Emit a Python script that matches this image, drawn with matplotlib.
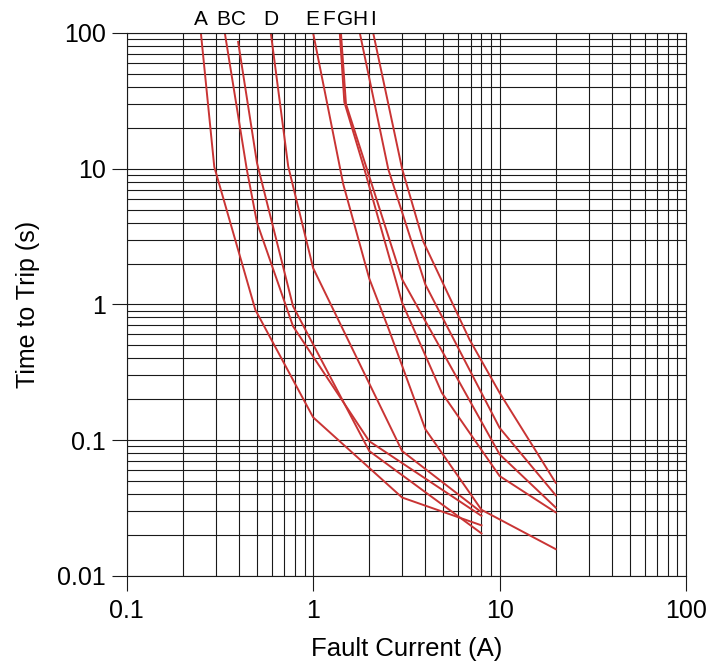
import matplotlib
matplotlib.use("Agg")
import matplotlib.pyplot as plt
from matplotlib.ticker import LogLocator, FixedLocator, NullFormatter

plt.rcParams['font.family'] = ['Liberation Sans', 'DejaVu Sans']

# ---- data (current in A, time in s) ----
names = ["A", "B", "C", "D", "E", "F", "G", "H", "I"]

A_x = [0.25, 0.295, 0.49, 1.0, 3.0, 8.0]
A_y = [100, 10.3, 0.91, 0.147, 0.0377, 0.0235]
B_x = [0.336, 0.44, 0.5, 0.78, 2.0, 8.0]
B_y = [100, 10, 4.0, 0.69, 0.098, 0.0276]
C_x = [0.396, 0.5, 0.78, 2.0, 8.0]
C_y = [86, 11, 0.97, 0.083, 0.0205]
D_x = [0.593, 0.735, 1.0, 3.0, 8.0]
D_y = [100, 10.4, 1.85, 0.083, 0.0293]
E_x = [1.0, 1.45, 2.0, 2.55, 4.0, 8.0, 20.0]
E_y = [100, 7.7, 1.55, 0.65, 0.12, 0.0306, 0.0157]
F_x = [1.39, 1.47, 1.88, 3.0, 4.9, 10.0, 20.0]
F_y = [100, 31, 10, 1.03, 0.223, 0.0543, 0.0293]
G_x = [1.41, 1.5, 1.94, 3.0, 10.0, 20.0]
G_y = [100, 30, 10, 1.53, 0.0785, 0.0318]
H_x = [1.78, 2.53, 4.0, 10.0, 20.0]
H_y = [100, 9.9, 1.4, 0.123, 0.0392]
I_x = [2.1, 3.0, 3.9, 6.9, 10.0, 20.0]
I_y = [100, 10, 2.9, 0.55, 0.223, 0.0484]

label_x = [0.25, 0.329, 0.40, 0.59, 0.99, 1.215, 1.48, 1.79, 2.1]

x_ticks = [0.1, 1, 10, 100]
x_ticklabels = ["0.1", "1", "10", "100"]
y_ticks = [0.01, 0.1, 1, 10, 100]
y_ticklabels = ["0.01", "0.1", "1", "10", "100"]

curves = [(A_x, A_y), (B_x, B_y), (C_x, C_y), (D_x, D_y), (E_x, E_y),
          (F_x, F_y), (G_x, G_y), (H_x, H_y), (I_x, I_y)]

fig = plt.figure(figsize=(7.10, 6.68), dpi=100)
ax = fig.add_axes([126.7 / 710, 1 - 575.7 / 668, (686 - 126.7) / 710, (575.7 - 33) / 668])
ax.set_xscale("log")
ax.set_yscale("log")
ax.set_xlim(0.1, 100)
ax.set_ylim(0.01, 100)

ax.xaxis.set_major_locator(FixedLocator(x_ticks))
ax.yaxis.set_major_locator(FixedLocator(y_ticks))
ax.set_xticklabels(x_ticklabels)
ax.set_yticklabels(y_ticklabels)
ax.xaxis.set_minor_locator(LogLocator(base=10, subs=range(2, 10)))
ax.yaxis.set_minor_locator(LogLocator(base=10, subs=range(2, 10)))
ax.xaxis.set_minor_formatter(NullFormatter())
ax.yaxis.set_minor_formatter(NullFormatter())

ax.grid(True, which="both", color="#1a1a1a", linewidth=0.8)
ax.set_axisbelow(True)
ax.tick_params(which="major", direction="out", length=11, width=0.8,
               labelsize=18, pad=4, color="#1a1a1a")
ax.tick_params(axis="x", which="major", pad=6)
ax.tick_params(which="minor", length=0)
for s in ax.spines.values():
    s.set_color("#1a1a1a")
    s.set_linewidth(0.8)

for (xs, ys) in curves:
    ax.plot(xs, ys, color="#c93434", linewidth=1.4, solid_joinstyle="miter")

for name, lx in zip(names, label_x):
    ax.annotate(name, xy=(lx, 1.0), xycoords=("data", "axes fraction"),
                xytext=(0, 3), textcoords="offset points",
                ha="center", va="bottom", fontsize=15)

ax.set_xlabel("Fault Current (A)", fontsize=18.5, labelpad=10)
ax.set_ylabel("Time to Trip (s)", fontsize=18, labelpad=12)

fig.savefig("out.png", dpi=100)
